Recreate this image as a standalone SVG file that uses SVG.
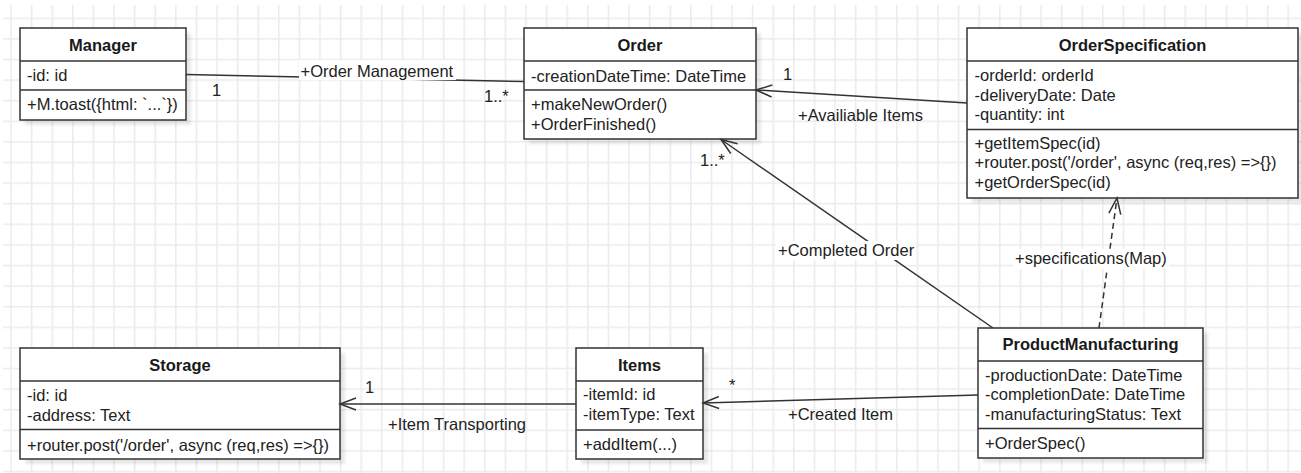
<svg xmlns="http://www.w3.org/2000/svg" width="1301" height="473" viewBox="0 0 1301 473">
  <style>
    .t { font-family: "Liberation Sans", Arial, sans-serif; font-size: 16.5px; fill: #222; }
    .title { font-weight: bold; text-anchor: middle; fill: #1a1a1a; }
    .box { fill: #fff; stroke: #333; stroke-width: 1.5; }
    .sep { stroke: #333; stroke-width: 1.5; }
    .shadow { fill: #000; opacity: 0.09; filter: url(#soft); }
    .edge { fill: none; stroke: #333; stroke-width: 1.5; }
    .dash { stroke-dasharray: 6 4; }
    .bg { fill: #fff; }
  </style>
  <defs>
    <pattern id="grid" patternUnits="userSpaceOnUse" x="10.25" y="17.55" width="20.6" height="20.6">
      <path d="M0.75 0V20.6M0 0.75H20.6" fill="none" stroke="#ebebeb" stroke-width="1.5"/>
    </pattern>
    <filter id="soft" x="-10%" y="-10%" width="120%" height="120%">
      <feGaussianBlur stdDeviation="1.5"/>
    </filter>
    <marker id="open" markerUnits="userSpaceOnUse" viewBox="0 0 20 16" markerWidth="20" markerHeight="16" refX="18" refY="8" orient="auto">
      <path d="M2 2 L18 8 L2 14" fill="none" stroke="#333" stroke-width="1.5" stroke-dasharray="none"/>
    </marker>
  </defs>

  <!-- canvas -->
  <rect width="1301" height="473" fill="#fff"/>
  <rect x="3" y="5" width="1298" height="468" fill="url(#grid)"/>

  <!-- classes -->
  <g id="manager" class="t">
    <rect class="shadow" x="25" y="33" width="166" height="92"/>
    <rect class="box" x="20" y="28" width="166" height="92"/>
    <line class="sep" x1="20" y1="61" x2="186" y2="61"/>
    <line class="sep" x1="20" y1="90" x2="186" y2="90"/>
    <text class="title" x="103" y="51">Manager</text>
    <text x="27" y="81">-id: id</text>
    <text x="27" y="110">+M.toast({html: `...`})</text>
  </g>

  <g id="order" class="t">
    <rect class="shadow" x="529" y="33" width="232" height="111"/>
    <rect class="box" x="524" y="28" width="232" height="111"/>
    <line class="sep" x1="524" y1="61" x2="756" y2="61"/>
    <line class="sep" x1="524" y1="90" x2="756" y2="90"/>
    <text class="title" x="640" y="51">Order</text>
    <text x="531" y="81.5">-creationDateTime: DateTime</text>
    <text x="531" y="110">+makeNewOrder()</text>
    <text x="531" y="129.5">+OrderFinished()</text>
  </g>

  <g id="order-specification" class="t">
    <rect class="shadow" x="972" y="33" width="331" height="170"/>
    <rect class="box" x="967" y="28" width="331" height="170"/>
    <line class="sep" x1="967" y1="61" x2="1298" y2="61"/>
    <line class="sep" x1="967" y1="129.5" x2="1298" y2="129.5"/>
    <text class="title" x="1132.5" y="51">OrderSpecification</text>
    <text x="974.5" y="81">-orderId: orderId</text>
    <text x="974.5" y="100.5">-deliveryDate: Date</text>
    <text x="974.5" y="120">-quantity: int</text>
    <text x="974.5" y="148.5">+getItemSpec(id)</text>
    <text x="974.5" y="168">+router.post('/order', async (req,res) =&gt;{})</text>
    <text x="974.5" y="188">+getOrderSpec(id)</text>
  </g>

  <g id="product-manufacturing" class="t">
    <rect class="shadow" x="983" y="333" width="225" height="130"/>
    <rect class="box" x="978" y="328" width="225" height="130"/>
    <line class="sep" x1="978" y1="361" x2="1203" y2="361"/>
    <line class="sep" x1="978" y1="428.5" x2="1203" y2="428.5"/>
    <text class="title" x="1090.5" y="350">ProductManufacturing</text>
    <text x="985" y="380.5">-productionDate: DateTime</text>
    <text x="985" y="400">-completionDate: DateTime</text>
    <text x="985" y="419.5">-manufacturingStatus: Text</text>
    <text x="985" y="449">+OrderSpec()</text>
  </g>

  <g id="storage" class="t">
    <rect class="shadow" x="25" y="353" width="320" height="111"/>
    <rect class="box" x="20" y="348" width="320" height="111"/>
    <line class="sep" x1="20" y1="381" x2="340" y2="381"/>
    <line class="sep" x1="20" y1="429.5" x2="340" y2="429.5"/>
    <text class="title" x="180" y="371">Storage</text>
    <text x="27" y="401">-id: id</text>
    <text x="27" y="421">-address: Text</text>
    <text x="27" y="451">+router.post('/order', async (req,res) =&gt;{})</text>
  </g>

  <g id="items" class="t">
    <rect class="shadow" x="581" y="353" width="127" height="111"/>
    <rect class="box" x="576" y="348" width="127" height="111"/>
    <line class="sep" x1="576" y1="381" x2="703" y2="381"/>
    <line class="sep" x1="576" y1="430" x2="703" y2="430"/>
    <text class="title" x="639.5" y="371">Items</text>
    <text x="583" y="400">-itemId: id</text>
    <text x="583" y="420">-itemType: Text</text>
    <text x="583" y="450">+addItem(...)</text>
  </g>

  <!-- associations -->
  <g id="connectors" class="t">
    <!-- Manager - Order -->
    <path class="edge" d="M186 74.5 L524 81.5"/>
    <rect class="bg" x="299" y="60" width="157" height="20"/>
    <text x="300.5" y="76.5">+Order Management</text>
    <text x="212" y="96">1</text>
    <text x="484" y="101.5">1..*</text>

    <!-- OrderSpecification -> Order -->
    <path class="edge" d="M967 103 L756 90" marker-end="url(#open)"/>
    <text x="783" y="80">1</text>
    <text x="798" y="121">+Availiable Items</text>

    <!-- ProductManufacturing -> Order -->
    <path class="edge" d="M993 328 L721 139.5" marker-end="url(#open)"/>
    <text x="700" y="166">1..*</text>
    <rect class="bg" x="776" y="241" width="140" height="19"/>
    <text x="778" y="256">+Completed Order</text>

    <!-- ProductManufacturing -> OrderSpecification (dependency) -->
    <path class="edge dash" d="M1099 328 L1117 198" marker-end="url(#open)"/>
    <rect class="bg" x="1013" y="249" width="156" height="20"/>
    <text x="1015" y="264">+specifications(Map)</text>

    <!-- ProductManufacturing -> Items -->
    <path class="edge" d="M978 395 L703 403" marker-end="url(#open)"/>
    <text x="729" y="391">*</text>
    <text x="788" y="420">+Created Item</text>

    <!-- Items -> Storage -->
    <path class="edge" d="M576 404 L340 404" marker-end="url(#open)"/>
    <text x="365" y="393">1</text>
    <text x="388" y="429.5">+Item Transporting</text>
  </g>
</svg>
